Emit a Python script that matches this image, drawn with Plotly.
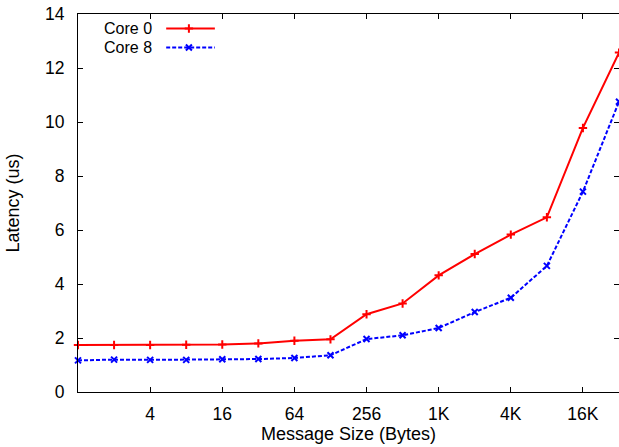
import plotly.graph_objects as go

sizes = [1, 2, 4, 8, 16, 32, 64, 128, 256, 512, 1024, 2048, 4096, 8192, 16384, 32768]
core0 = [1.74, 1.74, 1.74, 1.75, 1.76, 1.80, 1.90, 1.95, 2.88, 3.28, 4.32, 5.11, 5.83, 6.47, 9.78, 12.57]
core8 = [1.17, 1.20, 1.19, 1.19, 1.21, 1.22, 1.26, 1.36, 1.96, 2.10, 2.37, 2.96, 3.49, 4.67, 7.42, 10.75]
xtick_vals = [4, 16, 64, 256, 1024, 4096, 16384]
xtick_text = ["4", "16", "64", "256", "1K", "4K", "16K"]
ytick_vals = [0, 2, 4, 6, 8, 10, 12, 14]
series_names = ["Core 0", "Core 8"]

RED = "#ff0000"
BLUE = "#0000ff"
FONT = "Liberation Sans, Arial, sans-serif"
DASH = "4px,2px"

fig = go.Figure()
fig.add_trace(go.Scatter(
    x=sizes, y=core0, mode="lines+markers", name=series_names[0],
    line=dict(color=RED, width=2),
    marker=dict(symbol="cross-thin", size=6, line=dict(color=RED, width=2)),
    showlegend=False, cliponaxis=False))
fig.add_trace(go.Scatter(
    x=sizes, y=core8, mode="lines+markers", name=series_names[1],
    line=dict(color=BLUE, width=2, dash=DASH),
    marker=dict(symbol="x-thin", size=6, line=dict(color=BLUE, width=2)),
    showlegend=False, cliponaxis=False))

# gnuplot-style key (text on left, sample on right) on an invisible overlay axis
key_y = [0.9616, 0.9114]
key_colors = [RED, BLUE]
key_dash = ["solid", DASH]
key_sym = ["cross-thin", "x-thin"]
for i in range(2):
    fig.add_trace(go.Scatter(
        x=[0.163, 0.253], y=[key_y[i], key_y[i]], mode="lines",
        line=dict(color=key_colors[i], width=2, dash=key_dash[i]),
        xaxis="x2", yaxis="y2", showlegend=False, hoverinfo="skip"))
    fig.add_trace(go.Scatter(
        x=[0.205], y=[key_y[i]], mode="markers",
        marker=dict(symbol=key_sym[i], size=6, line=dict(color=key_colors[i], width=2)),
        xaxis="x2", yaxis="y2", showlegend=False, hoverinfo="skip"))
    fig.add_annotation(
        x=0.138, y=key_y[i], xref="paper", yref="paper", text=series_names[i],
        showarrow=False, xanchor="right", yanchor="middle",
        borderpad=0, valign="middle",
        font=dict(family=FONT, size=16, color="black"))

fig.update_layout(
    width=619, height=447,
    margin=dict(l=78, r=0, t=14, b=55),
    paper_bgcolor="white", plot_bgcolor="white",
    font=dict(family=FONT, size=17.5, color="black"),
    xaxis=dict(
        type="log", range=[0, 4.51545], tickvals=xtick_vals, ticktext=xtick_text,
        ticks="inside", ticklen=5, tickcolor="black", mirror="ticks",
        showline=True, linecolor="black", linewidth=1, showgrid=False, zeroline=False,
        ticklabelstandoff=6,
        title=dict(text="Message Size (Bytes)", standoff=4, font=dict(size=18)),
        tickfont=dict(size=17.5)),
    yaxis=dict(
        range=[0, 14], tickvals=ytick_vals,
        ticks="inside", ticklen=5, tickcolor="black", mirror="ticks",
        showline=True, linecolor="black", linewidth=1, showgrid=False, zeroline=False,
        ticklabelstandoff=9,
        title=dict(text="Latency (us)", standoff=20, font=dict(size=18)),
        tickfont=dict(size=17.5)),
    xaxis2=dict(overlaying="x", range=[0, 1], visible=False, anchor="y2"),
    yaxis2=dict(overlaying="y", range=[0, 1], visible=False, anchor="x2"),
)

fig.write_html("out.html")
